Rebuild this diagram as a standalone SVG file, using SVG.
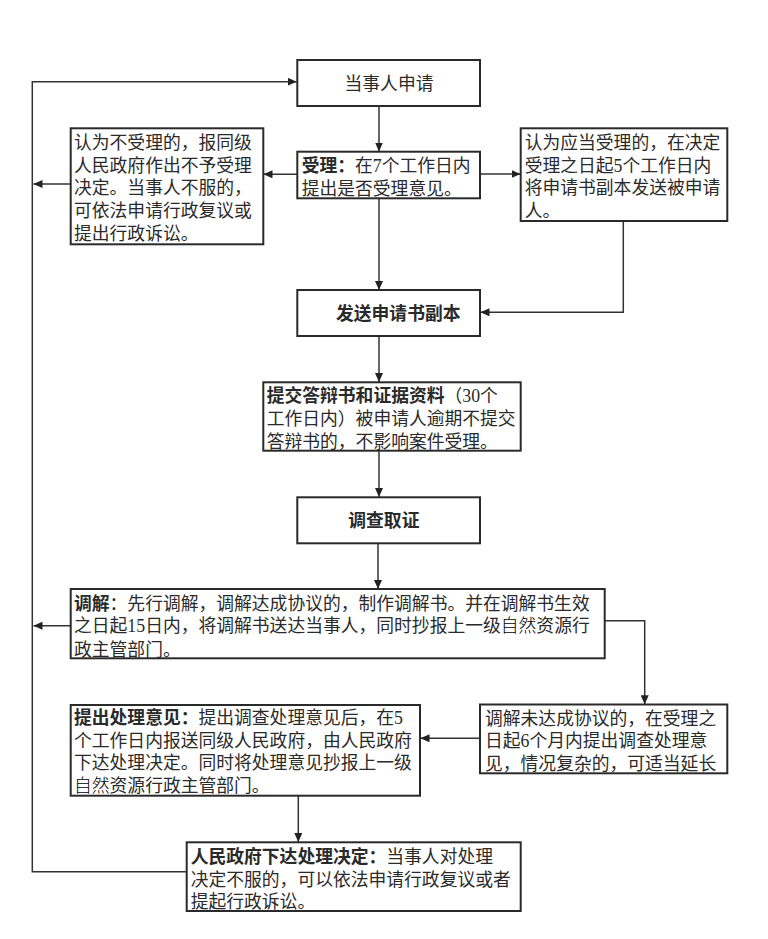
<svg xmlns="http://www.w3.org/2000/svg" width="768" height="939" viewBox="0 0 768 939">
<defs>
<style>
.box{fill:#fff;stroke:#2a2a2a;stroke-width:2}
.ln{fill:none;stroke:#333;stroke-width:1.5}
text{font-family:"Liberation Serif","Noto Sans CJK SC",serif;font-size:17.8px;fill:#2a2a2a}
.b{font-weight:bold}
.nat{font-family:"Noto Sans CJK SC",sans-serif;font-weight:300;fill:#000}
</style>
<marker id="ah" markerUnits="userSpaceOnUse" markerWidth="9" markerHeight="8" refX="9" refY="4" orient="auto">
<path d="M0,0 L9,4 L0,8 z" fill="#222"/>
</marker>
</defs>
<rect width="768" height="939" fill="#fff"/>
<g id="connectors">
<path class="ln" d="M186.7,871.7 H32.3 V81.7 H296.7" marker-end="url(#ah)"/>
<path class="ln" d="M379,106 V151.5" marker-end="url(#ah)"/>
<path class="ln" d="M297.3,174.3 H263.5" marker-end="url(#ah)"/>
<path class="ln" d="M70.7,184 H33.5" marker-end="url(#ah)"/>
<path class="ln" d="M480,174 H520.5" marker-end="url(#ah)"/>
<path class="ln" d="M379,198.3 V290" marker-end="url(#ah)"/>
<path class="ln" d="M623.3,221 V312.3 H480.5" marker-end="url(#ah)"/>
<path class="ln" d="M379,336 V382" marker-end="url(#ah)"/>
<path class="ln" d="M379,450.7 V497" marker-end="url(#ah)"/>
<path class="ln" d="M378,543.3 V589" marker-end="url(#ah)"/>
<path class="ln" d="M70.7,625.7 H33.5" marker-end="url(#ah)"/>
<path class="ln" d="M604.7,620.7 H644.7 V704.3" marker-end="url(#ah)"/>
<path class="ln" d="M480,738.3 H420.5" marker-end="url(#ah)"/>
<path class="ln" d="M298.3,795.7 V842" marker-end="url(#ah)"/>
</g>
<g id="n-apply">
<rect class="box" x="297.3" y="60" width="182.7" height="46"/>
<text x="389" y="89.5" text-anchor="middle">当事人申请</text>
</g>
<g id="n-accept">
<rect class="box" x="297.3" y="151.7" width="182.7" height="46.6"/>
<text x="301.7" y="171.5"><tspan class="b">受理：</tspan>在7个工作日内</text>
<text x="301.7" y="194.5">提出是否受理意见。</text>
</g>
<g id="n-reject">
<rect class="box" x="70.7" y="128.3" width="192.6" height="116"/>
<text x="74" y="149">认为不受理的，报同级</text>
<text x="74" y="171.5">人民政府作出不予受理</text>
<text x="74" y="194">决定。当事人不服的，</text>
<text x="74" y="217">可依法申请行政复议或</text>
<text x="74" y="239.5">提出行政诉讼。</text>
</g>
<g id="n-should">
<rect class="box" x="520.7" y="128.3" width="206.6" height="92.7"/>
<text x="524.7" y="149">认为应当受理的，在决定</text>
<text x="524.7" y="171.5">受理之日起5个工作日内</text>
<text x="524.7" y="194">将申请书副本发送被申请</text>
<text x="524.7" y="217">人。</text>
</g>
<g id="n-send">
<rect class="box" x="297.3" y="290" width="182.7" height="46"/>
<text x="336" y="319.8" class="b">发送申请书副本</text>
</g>
<g id="n-reply">
<rect class="box" x="263.3" y="382.3" width="257.4" height="68.4"/>
<text x="266.7" y="402"><tspan class="b">提交答辩书和证据资料</tspan>（30个</text>
<text x="266.7" y="424.8">工作日内）被申请人逾期不提交</text>
<text x="266.7" y="447.8">答辩书的，不影响案件受理。</text>
</g>
<g id="n-invest">
<rect class="box" x="297.3" y="497.3" width="182.7" height="46"/>
<text x="348.3" y="527" class="b">调查取证</text>
</g>
<g id="n-mediate">
<rect class="box" x="70.7" y="589" width="534" height="69.3"/>
<text x="74" y="609.8"><tspan class="b">调解</tspan>：先行调解，调解达成协议的，制作调解书。并在调解书生效</text>
<text x="74" y="632.2">之日起15日内，将调解书送达当事人，同时抄报上一级<tspan class="nat">自然</tspan>资源行</text>
<text x="74" y="655.5">政主管部门。</text>
</g>
<g id="n-nodeal">
<rect class="box" x="480" y="704.5" width="247.3" height="68.8"/>
<text x="485" y="724.8">调解未达成协议的，在受理之</text>
<text x="485" y="747.3">日起6个月内提出调查处理意</text>
<text x="485" y="769.8">见，情况复杂的，可适当延长</text>
</g>
<g id="n-opinion">
<rect class="box" x="70.7" y="705" width="349.3" height="90.7"/>
<text x="74" y="724"><tspan class="b">提出处理意见：</tspan>提出调查处理意见后，在5</text>
<text x="74" y="746.5">个工作日内报送同级人民政府，由人民政府</text>
<text x="74" y="769">下达处理决定。同时将处理意见抄报上一级</text>
<text x="74" y="791.5"><tspan class="nat">自然</tspan>资源行政主管部门。</text>
</g>
<g id="n-decision">
<rect class="box" x="186.7" y="842.3" width="334" height="68.7"/>
<text x="190.7" y="863"><tspan class="b">人民政府下达处理决定：</tspan>当事人对处理</text>
<text x="190.7" y="885.5">决定不服的，可以依法申请行政复议或者</text>
<text x="190.7" y="908">提起行政诉讼。</text>
</g>
</svg>
